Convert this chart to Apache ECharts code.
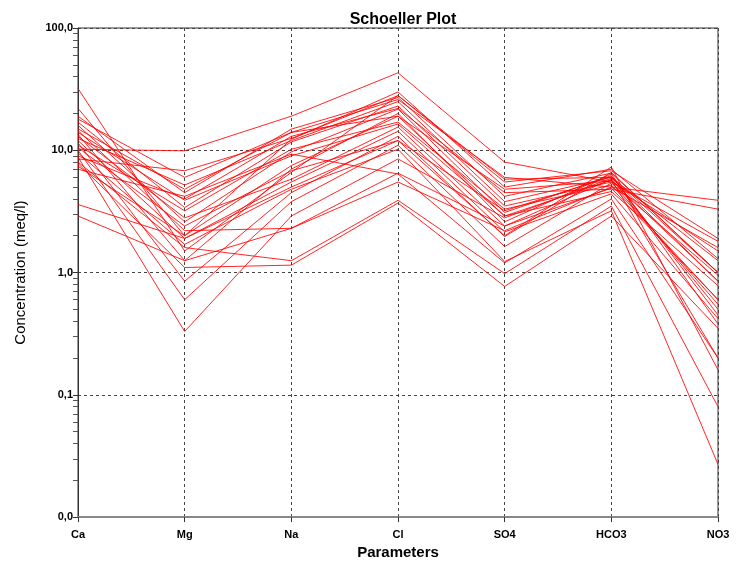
<!DOCTYPE html>
<html>
<head>
<meta charset="utf-8">
<script src="https://cdn.jsdelivr.net/npm/echarts@6/dist/echarts.min.js"></script>
<style>
  html, body { margin: 0; padding: 0; background: #fff; }
  #chart { width: 740px; height: 565px; }
</style>
</head>
<body>
<div id="chart"></div>
<script>
// parameters on the x axis
var params = ['Ca', 'Mg', 'Na', 'Cl', 'SO4', 'HCO3', 'NO3'];

// one value per sample (meq/l), same sample order in every array
var Ca   = [10.2, 32, 22, 19, 18, 17, 16, 15, 14.5, 14, 13.5, 13, 12.5, 12, 11.5, 11, 10.5, 10, 9.5, 9, 8.8, 8.5, 8, 7.8, 7.4, 7, 3.6, 2.9];
var Mg   = [9.9, 1.5, 2.0, 4.5, 6.0, 3.4, 2.6, 4.8, 2.2, 3.9, 1.25, 2.8, 5.2, 1.9, 0.85, 3.2, 2.4, 0.6, 1.7, 4.0, 0.33, 6.8, 1.6, 1.1, 2.0, 4.2, 1.9, 1.25];
var Na   = [19, 6.6, 12.3, 14.9, 14, 11.7, 9.7, 14, 2.3, 9.0, 7.0, 5.8, 12, 5.5, 4.5, 10.2, 6.8, 3.8, 4.8, 13, 2.9, 12.5, 1.25, 1.15, 7.5, 9.3, 5.0, 2.3];
var Cl   = [43, 28, 30, 27, 26, 23, 21.7, 19, 5.5, 16.4, 20, 15.5, 25, 14.3, 13, 17, 12, 11, 10.2, 22, 8.5, 28, 3.9, 3.7, 19, 6.4, 12, 6.5];
var SO4  = [8.0, 5.8, 5.0, 4.2, 6.0, 3.5, 3.1, 4.8, 2.2, 2.9, 2.6, 2.4, 3.8, 2.15, 1.97, 3.3, 2.0, 1.63, 1.23, 4.5, 2.8, 5.5, 0.98, 0.77, 2.9, 1.2, 3.2, 2.4];
var HCO3 = [5.5, 6.0, 7.0, 6.5, 5.0, 5.5, 6.2, 5.6, 5.0, 4.6, 6.4, 5.8, 6.0, 4.4, 6.6, 5.2, 7.3, 5.4, 3.2, 4.8, 5.9, 6.8, 3.5, 2.9, 5.7, 4.0, 6.1, 4.9];
var NO3  = [1.8, 0.85, 1.3, 1.0, 3.9, 0.55, 0.45, 1.5, 1.6, 0.78, 0.38, 0.2, 1.25, 0.42, 1.0, 0.6, 0.16, 0.95, 0.027, 3.3, 0.5, 1.9, 0.08, 0.35, 0.85, 0.2, 1.0, 0.6];

// y axis: decades labelled, log minor ticks in between
var decades = [0.01, 0.1, 1, 10, 100];
var minorTicks = [];
for (var d = 0; d < decades.length - 1; d++) {
  for (var k = 2; k <= 9; k++) minorTicks.push(+(decades[d] * k).toPrecision(3));
}

var series = [];
for (var i = 0; i < Ca.length; i++) {
  series.push({
    type: 'line',
    data: [Ca[i], Mg[i], Na[i], Cl[i], SO4[i], HCO3[i], NO3[i]],
    symbol: 'none',
    silent: true,
    lineStyle: { color: 'rgba(255,0,0,0.85)', width: 1 }
  });
}

var gridLine = { show: true, lineStyle: { color: '#444', type: [3, 3], width: 1 } };
var labelFont = { fontFamily: 'Liberation Sans', fontWeight: 'bold', fontSize: 11, color: '#000' };

var myChart = echarts.init(document.getElementById('chart'));
myChart.setOption({
  animation: false,
  backgroundColor: '#fff',
  title: {
    text: 'Schoeller Plot',
    left: 398,
    top: 7,
    textAlign: 'center',
    textStyle: { fontFamily: 'Liberation Sans', fontWeight: 'bold', fontSize: 16, color: '#000' }
  },
  grid: {
    left: 78, right: 22, top: 28, bottom: 44,
    show: true, borderColor: '#333', borderWidth: 1
  },
  xAxis: {
    type: 'category',
    data: params,
    boundaryGap: false,
    name: 'Parameters',
    nameLocation: 'middle',
    nameGap: 25,
    nameTextStyle: { fontFamily: 'Liberation Sans', fontWeight: 'bold', fontSize: 15, color: '#000' },
    axisLine: { lineStyle: { color: '#888', width: 2 } },
    axisTick: { show: true, length: 5, lineStyle: { color: '#333' }, alignWithLabel: true },
    axisLabel: Object.assign({ margin: 12, interval: 0 }, labelFont),
    splitLine: gridLine
  },
  yAxis: [{
    type: 'log',
    logBase: 10,
    min: 0.01,
    max: 100,
    name: 'Concentration (meq/l)',
    nameLocation: 'middle',
    nameGap: 50,
    nameTextStyle: { fontFamily: 'Liberation Sans', fontSize: 15, color: '#000' },
    axisLine: { show: true, lineStyle: { color: '#333', width: 1 } },
    axisTick: { show: true, length: 5, lineStyle: { color: '#333' } },
    axisLabel: Object.assign({
      margin: 5,
      formatter: function (v) { return v.toFixed(1).replace('.', ','); }
    }, labelFont),
    splitLine: gridLine
  }, {
    type: 'log',
    logBase: 10,
    min: 0.01,
    max: 100,
    position: 'left',
    axisLine: { show: false },
    axisTick: { show: true, length: 5, customValues: minorTicks, lineStyle: { color: '#555' } },
    axisLabel: { show: false },
    splitLine: { show: false }
  }],
  series: series
});
</script>
</body>
</html>
